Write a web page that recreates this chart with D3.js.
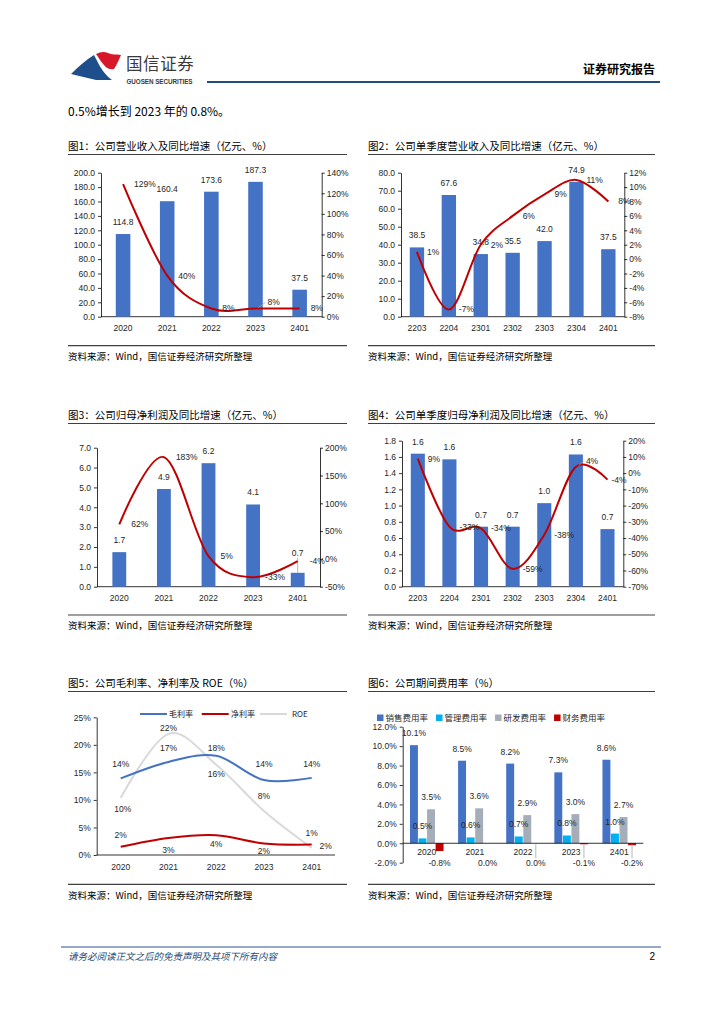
<!DOCTYPE html>
<html><head><meta charset="utf-8">
<script src="https://cdn.jsdelivr.net/npm/d3@7/dist/d3.min.js"></script>
<style>
body{margin:0;background:#fff;}
svg{display:block;}
</style></head><body>
<svg id="page" width="724" height="1024"></svg>
<script>
// ---------- DATA ----------
const years = ["2020","2021","2022","2023","2401"];
const quarters = ["2203","2204","2301","2302","2303","2304","2401"];

const revenue = [114.8, 160.4, 173.6, 187.3, 37.5];      // 亿元
const revenueYoY = [129, 40, 8, 8, 8];                    // %

const qRevenue = [38.5, 67.6, 34.8, 35.5, 42.0, 74.9, 37.5];
const qRevenueYoY = [1, -7, 2, 6, 9, 11, 8];

const netProfit = [1.74, 4.92, 6.22, 4.14, 0.70];
const netProfitYoY = [62, 183, 5, -33, -4];

const qNetProfit = [1.64, 1.57, 0.74, 0.74, 1.03, 1.63, 0.71];
const qNetProfitYoY = [9, -33, -34, -59, -38, 4, -4];

const grossMargin = [13.9, 16.9, 18.0, 13.6, 14.0];
const netMargin = [1.5, 3.1, 3.6, 2.1, 1.9];
const roe = [10.4, 22.0, 16.4, 8.0, 1.3];

const expenseSeries = ["销售费用率","管理费用率","研发费用率","财务费用率"];
const salesRate = [10.1, 8.5, 8.2, 7.3, 8.6];
const adminRate = [0.5, 0.6, 0.7, 0.8, 1.0];
const rdRate = [3.5, 3.6, 2.9, 3.0, 2.7];
const finRate = [-0.8, 0.0, 0.0, -0.1, -0.2];

// ---------- STYLE ----------
const C_BLUE="#4472C4", C_RED="#C00000", C_GRAY="#D9D9D9", C_CYAN="#00B0F0", C_RD="#A5ADB9";
const NUMF = "'Liberation Sans', Arial, sans-serif";
const CJK = "'Noto Sans CJK SC', 'Noto Sans', sans-serif";
const TXT = "#262626";

const svg = d3.select("#page");

// ---------- HEADER ----------
svg.append("path").attr("d","M71,74 C78,67 86,60 94,55 C97,60 99,66 103,71 C106,75 109,78 112,80 L96,80 C88,78 79,76 71,74 Z").attr("fill","#1F4E8C");
svg.append("path").attr("d","M96,54 C100,52 104,51 108,53 C112,55 116,54 121,55 C119,60 117,64 114,69 C110,70 106,68 104,65 C101,62 99,58 96,54 Z").attr("fill","#D7182A");
svg.append("text").attr("x",126).attr("y",70).attr("font-family",CJK).attr("font-size",16.5).attr("fill","#3a3a3a").attr("letter-spacing",0.6).text("国信证券");
svg.append("text").attr("x",126.5).attr("y",84).attr("font-family",NUMF).attr("font-weight","bold").attr("font-size",6.3).attr("fill","#3a3a3a").attr("textLength",66).text("GUOSEN SECURITIES");
svg.append("line").attr("x1",207).attr("x2",660).attr("y1",82).attr("y2",82).attr("stroke","#1F4E79").attr("stroke-width",2);
svg.append("text").attr("x",655).attr("y",74).attr("text-anchor","end").attr("font-family",CJK).attr("font-weight","bold").attr("font-size",12).attr("fill","#000").text("证券研究报告");

svg.append("text").attr("x",68).attr("y",116).attr("font-family",CJK).attr("font-size",12).attr("fill","#000").text("0.5%增长到 2023 年的 0.8%。");

// ---------- FOOTER ----------
svg.append("line").attr("x1",61).attr("x2",661).attr("y1",947).attr("y2",947).attr("stroke","#2F5597").attr("stroke-width",1.2);
svg.append("text").attr("x",68).attr("y",960).attr("font-family",CJK).attr("font-style","italic").attr("font-size",9.5).attr("fill","#1F4E79").text("请务必阅读正文之后的免责声明及其项下所有内容");
svg.append("text").attr("x",655).attr("y",960).attr("text-anchor","end").attr("font-family",NUMF).attr("font-size",10).attr("fill","#000").text("2");

// ---------- FRAMES ----------
function frame(x, x2, titleY, title, srcY){
  svg.append("text").attr("x",x).attr("y",titleY).attr("dy","0.35em").attr("font-family",CJK).attr("font-size",10.5).attr("fill","#000").text(title);
  svg.append("line").attr("x1",x).attr("x2",x2).attr("y1",titleY+8).attr("y2",titleY+8).attr("stroke","#404040").attr("stroke-width",1.2);
  svg.append("line").attr("x1",x).attr("x2",x2).attr("y1",srcY).attr("y2",srcY).attr("stroke","#404040").attr("stroke-width",1.2);
  svg.append("text").attr("x",x).attr("y",srcY+11).attr("dy","0.35em").attr("font-family",CJK).attr("font-size",9.5).attr("fill","#000").text("资料来源：Wind，国信证券经济研究所整理");
}
frame(68,347,146.5,"图1：公司营业收入及同比增速（亿元、%）",345.7);
frame(368,655,146.5,"图2：公司单季度营业收入及同比增速（亿元、%）",345.7);
frame(68,347,415.5,"图3：公司归母净利润及同比增速（亿元、%）",615);
frame(368,655,415.5,"图4：公司单季度归母净利润及同比增速（亿元、%）",615);
frame(68,347,683.5,"图5：公司毛利率、净利率及 ROE（%）",884.3);
frame(368,655,683.5,"图6：公司期间费用率（%）",884.3);

function styleAxis(sel){
  sel.select(".domain").attr("stroke","#000").attr("stroke-width",0.8);
  sel.selectAll(".tick line").attr("stroke","#000").attr("stroke-width",0.8);
  sel.selectAll(".tick text").attr("font-family",NUMF).attr("font-size",8.5).attr("fill",TXT);
}
function steps(lo, hi, st){ const n=Math.round((hi-lo)/st); return d3.range(n+1).map(i=>+(lo+i*st).toFixed(4)); }

// ---------- COMBO (bar + line, dual axis) ----------
function combo(o){
  const g = svg.append("g");
  const x = d3.scaleBand().domain(o.cats).range([o.x0,o.x1]);
  const yl = d3.scaleLinear().domain(o.lDom).range([o.yB,o.yT]);
  const yr = d3.scaleLinear().domain(o.rDom).range([o.yB,o.yT]);
  const cx = i => x(o.cats[i]) + x.bandwidth()/2;

  g.append("g").attr("transform",`translate(${o.x0},0)`)
    .call(d3.axisLeft(yl).tickValues(steps(o.lDom[0],o.lDom[1],o.lStep)).tickSize(3).tickSizeOuter(0).tickPadding(3).tickFormat(d=>d.toFixed(1)))
    .call(styleAxis);
  g.append("g").attr("transform",`translate(${o.x1},0)`)
    .call(d3.axisRight(yr).tickValues(steps(o.rDom[0],o.rDom[1],o.rStep)).tickSize(3).tickSizeOuter(0).tickPadding(2).tickFormat(d=>d+"%"))
    .call(styleAxis);
  g.append("line").attr("x1",o.x0).attr("x2",o.x1).attr("y1",o.yB).attr("y2",o.yB).attr("stroke","#000").attr("stroke-width",0.8);
  g.selectAll(".xl").data(o.cats).join("text").attr("x",(d,i)=>cx(i)).attr("y",o.yB+11).attr("dy","0.35em")
    .attr("text-anchor","middle").attr("font-family",NUMF).attr("font-size",8.5).attr("fill",TXT).text(d=>d);

  const bw = x.bandwidth()*o.bf;
  g.selectAll(".bar").data(o.bars).join("rect").attr("x",(d,i)=>cx(i)-bw/2).attr("y",d=>yl(d))
    .attr("width",bw).attr("height",d=>yl(0)-yl(d)).attr("fill",C_BLUE);

  o.bars.forEach((v,i)=>{
    const lift = (o.barLift && o.barLift[i]) || 12;
    if (lift > 14) g.append("line").attr("x1",cx(i)).attr("x2",cx(i)).attr("y1",yl(v)).attr("y2",yl(v)-lift+5).attr("stroke","#A6A6A6").attr("stroke-width",0.8);
    g.append("text").attr("x",cx(i)).attr("y",yl(v)-lift).attr("dy","0.35em").attr("text-anchor","middle")
      .attr("font-family",NUMF).attr("font-size",8.5).attr("fill",TXT).text(v.toFixed(1));
  });

  const line = d3.line().x((d,i)=>cx(i)).y(d=>yr(d)).curve(d3.curveCardinal.tension(0));
  g.append("path").attr("d",line(o.line)).attr("fill","none").attr("stroke",C_RED).attr("stroke-width",2);

  o.line.forEach((v,i)=>{
    const sh = (o.shift && o.shift[i]) || null;
    let lx = cx(i)+((o.dxOver && o.dxOver[i]!==undefined) ? o.dxOver[i] : o.dx), ly = yr(v);
    if (sh){
      g.append("line").attr("x1",cx(i)+3).attr("y1",yr(v)-1).attr("x2",cx(i)+sh[0]-2).attr("y2",yr(v)+sh[1]).attr("stroke","#A6A6A6").attr("stroke-width",0.8);
      lx = cx(i)+sh[0]; ly = yr(v)+sh[1];
    }
    g.append("text").attr("x",lx).attr("y",ly).attr("dy","0.35em").attr("font-family",NUMF).attr("font-size",8.5).attr("fill",TXT).text(v+"%");
  });
}

combo({cats:years,bars:revenue,line:revenueYoY,x0:101,x1:321.7,yT:172.7,yB:316.7,lDom:[0,200],lStep:20,rDom:[0,140],rStep:20,bf:0.33,dx:11,shift:{3:[12,-6]}});
combo({cats:quarters,bars:qRevenue,line:qRevenueYoY,x0:401,x1:624.3,yT:172.7,yB:316.7,lDom:[0,80],lStep:10,rDom:[-8,12],rStep:2,bf:0.45,dx:10});
combo({cats:years,bars:netProfit,line:netProfitYoY,x0:97,x1:320,yT:447.7,yB:586.7,lDom:[0,7],lStep:1,rDom:[-50,200],rStep:50,bf:0.31,dx:12,barLift:{4:20}});
combo({cats:quarters,bars:qNetProfit,line:qNetProfitYoY,x0:402,x1:623.3,yT:440.7,yB:586.7,lDom:[0,1.8],lStep:0.2,rDom:[-70,20],rStep:10,bf:0.445,dx:10,shift:{5:[10,-6]},dxOver:{6:4}});

// ---------- CHART 5: margins ----------
(function(){
  const g = svg.append("g");
  const x0 = 96.7, x1 = 335, yT = 717.3, yB = 855;
  const x = d3.scalePoint().domain(years).range([120.7, 311.7]);
  const y = d3.scaleLinear().domain([0,25]).range([yB,yT]);
  g.append("g").attr("transform",`translate(${x0},0)`)
    .call(d3.axisLeft(y).tickValues(steps(0,25,5)).tickSize(3).tickSizeOuter(0).tickPadding(3).tickFormat(d=>d+"%"))
    .call(styleAxis);
  g.append("line").attr("x1",x0).attr("x2",x1).attr("y1",yB).attr("y2",yB).attr("stroke","#000").attr("stroke-width",0.8);
  g.selectAll(".xl").data(years).join("text").attr("x",d=>x(d)).attr("y",yB+12).attr("dy","0.35em")
    .attr("text-anchor","middle").attr("font-family",NUMF).attr("font-size",8.5).attr("fill",TXT).text(d=>d);

  const series = [
    {name:"毛利率", vals:grossMargin, color:C_BLUE, place:[[0,-14],[0,-14],[0,-8],[0,-16],[0,-14]]},
    {name:"净利率", vals:netMargin, color:C_RED, place:[[0,-12],[0,12],[0,9],[0,8],[14,1]]},
    {name:"ROE", vals:roe, color:C_GRAY, place:[[2,11],[0,-6],[0,9],[0,-15],[0,-15]]}
  ];
  const line = d3.line().x((d,i)=>x(years[i])).y(d=>y(d)).curve(d3.curveCardinal.tension(0));
  [2,0,1].forEach(k=>{
    const s = series[k];
    g.append("path").attr("d",line(s.vals)).attr("fill","none").attr("stroke",s.color).attr("stroke-width",2);
  });
  series.forEach(s=>{
    s.vals.forEach((v,i)=>{
      g.append("text").attr("x",x(years[i])+s.place[i][0]).attr("y",y(v)+s.place[i][1]).attr("dy","0.35em")
        .attr("text-anchor","middle").attr("font-family",NUMF).attr("font-size",8.5).attr("fill",TXT).text(v.toFixed(0)+"%");
    });
  });
  // legend
  const lg = [[140,169],[201.7,231],[260,292]];
  series.forEach((s,k)=>{
    g.append("line").attr("x1",lg[k][0]).attr("x2",lg[k][0]+27).attr("y1",714).attr("y2",714).attr("stroke",s.color).attr("stroke-width",2);
    g.append("text").attr("x",lg[k][1]).attr("y",714).attr("dy","0.35em").attr("font-family",CJK).attr("font-size",8).attr("fill",TXT).text(s.name);
  });
})();

// ---------- CHART 6: expense rates ----------
(function(){
  const g = svg.append("g");
  const x0 = 402.7, x1 = 643.3, yT = 726.7, yB = 862.7;
  const y = d3.scaleLinear().domain([-2,12]).range([yB,yT]);
  const xg = d3.scaleBand().domain(years).range([x0,x1]).paddingInner(0.29).paddingOuter(0.145);
  const xs = d3.scaleBand().domain(expenseSeries).range([0,xg.bandwidth()]);
  const colors = [C_BLUE,C_CYAN,C_RD,C_RED];
  const data = [salesRate,adminRate,rdRate,finRate];

  g.append("g").attr("transform",`translate(${x0},0)`)
    .call(d3.axisLeft(y).tickValues(steps(-2,12,2)).tickSize(3).tickSizeOuter(0).tickPadding(3).tickFormat(d=>d.toFixed(1)+"%"))
    .call(styleAxis);

  data.forEach((arr,k)=>{
    g.selectAll(".b"+k).data(arr).join("rect")
      .attr("x",(d,i)=>xg(years[i])+xs(expenseSeries[k])+0.3)
      .attr("y",d=>y(Math.max(d,0)))
      .attr("width",xs.bandwidth()-0.6)
      .attr("height",d=>Math.max(Math.abs(y(d)-y(0)), d===0?0:1))
      .attr("fill",colors[k]);
  });
  g.append("line").attr("x1",x0).attr("x2",x1).attr("y1",y(0)).attr("y2",y(0)).attr("stroke","#000").attr("stroke-width",0.8);

  g.selectAll(".xl").data(years).join("text").attr("x",d=>xg(d)+xg.bandwidth()/2).attr("y",y(0)+8.5).attr("dy","0.35em")
    .attr("text-anchor","middle").attr("font-family",NUMF).attr("font-size",8.5).attr("fill",TXT).text(d=>d);

  data.forEach((arr,k)=>{
    arr.forEach((v,i)=>{
      const bx = xg(years[i])+xs(expenseSeries[k])+xs.bandwidth()/2;
      let ly;
      if (k<3) ly = y(v)-12;
      else {
        ly = Math.max(y(Math.min(v,0))+12, y(0)+20);
        if (i>=2) g.append("line").attr("x1",bx).attr("x2",bx).attr("y1",y(0)+1).attr("y2",ly-5).attr("stroke","#A6A6A6").attr("stroke-width",0.8);
      }
      g.append("text").attr("x",bx).attr("y",ly).attr("dy","0.35em").attr("text-anchor","middle")
        .attr("font-family",NUMF).attr("font-size",8.5).attr("fill",TXT).text(v.toFixed(1)+"%");
    });
  });

  // legend
  let lx = 377;
  expenseSeries.forEach((s,k)=>{
    g.append("rect").attr("x",lx).attr("y",714.5).attr("width",6.5).attr("height",6.5).attr("fill",colors[k]);
    const t = g.append("text").attr("x",lx+8.5).attr("y",718).attr("dy","0.35em").attr("font-family",CJK).attr("font-size",8.5).attr("fill",TXT).text(s);
    lx += 8.5 + t.node().getComputedTextLength() + 8;
  });
})();
</script>
</body></html>
